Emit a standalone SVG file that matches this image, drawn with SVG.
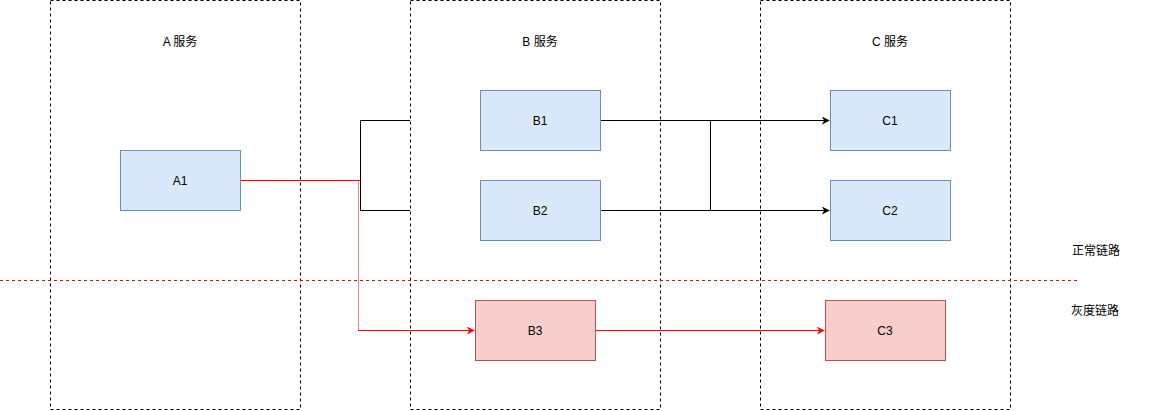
<svg xmlns="http://www.w3.org/2000/svg" width="1151" height="411" viewBox="0 0 1151 411">
<style>
.box{fill:none;stroke:#000;stroke-dasharray:3 3}
.blue{fill:#dae8fc;stroke:#6c8ebf}
.red{fill:#f8cecc;stroke:#b85450}
text{font-family:"Liberation Sans","Noto Sans CJK SC",sans-serif;font-size:12px;fill:#000;text-anchor:middle}
.k{fill:none;stroke:#000;stroke-width:1}
.r{fill:none;stroke:#ff0000;stroke-width:1}
</style>
<defs>
<marker id="ab" viewBox="0 0 10 10" refX="9" refY="5" markerWidth="8" markerHeight="8" markerUnits="userSpaceOnUse" orient="auto"><path d="M0,0 L10,5 L0,10 L3,5 Z" fill="#000"/></marker>
<marker id="ar" viewBox="0 0 10 10" refX="9" refY="5" markerWidth="8" markerHeight="8" markerUnits="userSpaceOnUse" orient="auto"><path d="M0,0 L10,5 L0,10 L3,5 Z" fill="#ff0000"/></marker>
</defs>
<g id="svcA"><rect class="box" x="50.5" y="0.5" width="250" height="409"/><text x="180" y="46">A 服务</text></g>
<g id="svcB"><rect class="box" x="410.5" y="0.5" width="250" height="409"/><text x="540" y="46">B 服务</text></g>
<g id="svcC"><rect class="box" x="760.5" y="0.5" width="250" height="409"/><text x="890" y="46">C 服务</text></g>
<g id="divider"><line x1="0" y1="280.5" x2="1080" y2="280.5" stroke="#ff0000" stroke-dasharray="3 3"/></g>
<g id="labelNormal"><text x="1096" y="255">正常链路</text></g>
<g id="labelGray"><text x="1095" y="315">灰度链路</text></g>
<g id="connectors">
<path class="k" d="M410,120.5 H360.5 V210.5 H410"/>
<path class="k" d="M600,120.5 H829" marker-end="url(#ab)"/>
<path class="k" d="M600,210.5 H829" marker-end="url(#ab)"/>
<path class="k" d="M710.5,120.5 V210.5"/>
<path class="r" d="M240,180.5 H360"/>
<path d="M358.5,181 V330.5" stroke="#ff0000" stroke-opacity="0.5" fill="none"/>
<path class="r" d="M358,330.5 H474" marker-end="url(#ar)"/>
<path class="r" d="M595,330.5 H824" marker-end="url(#ar)"/>
</g>
<g id="A1"><rect class="blue" x="120.5" y="150.5" width="120" height="60"/><text x="180" y="185">A1</text></g>
<g id="B1"><rect class="blue" x="480.5" y="90.5" width="120" height="60"/><text x="540" y="125">B1</text></g>
<g id="B2"><rect class="blue" x="480.5" y="180.5" width="120" height="60"/><text x="540" y="215">B2</text></g>
<g id="C1"><rect class="blue" x="830.5" y="90.5" width="120" height="60"/><text x="890" y="125">C1</text></g>
<g id="C2"><rect class="blue" x="830.5" y="180.5" width="120" height="60"/><text x="890" y="215">C2</text></g>
<g id="B3"><rect class="red" x="475.5" y="300.5" width="120" height="60"/><text x="535" y="335">B3</text></g>
<g id="C3"><rect class="red" x="825.5" y="300.5" width="120" height="60"/><text x="885" y="335">C3</text></g>
</svg>
